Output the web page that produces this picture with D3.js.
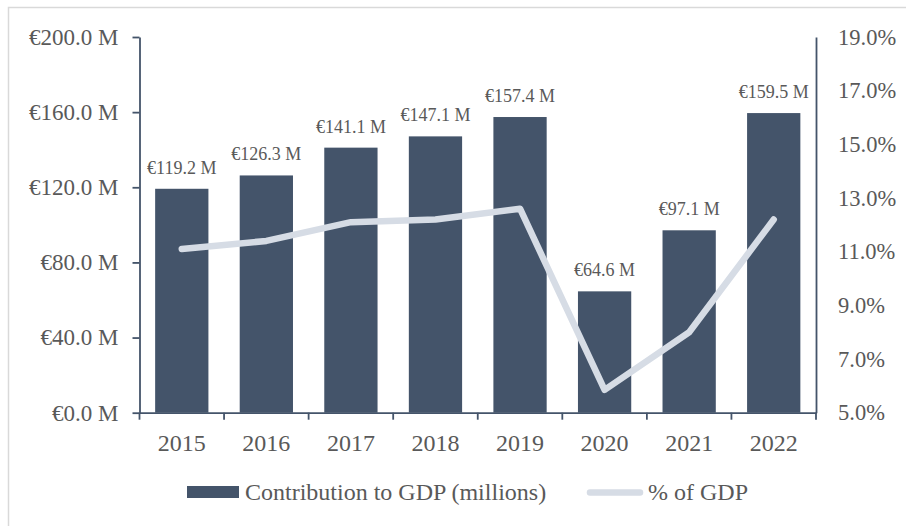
<!DOCTYPE html>
<html>
<head>
<meta charset="utf-8">
<script src="https://cdn.jsdelivr.net/npm/d3@7"></script>
<style>
  html, body { margin: 0; padding: 0; background: #fff; }
  svg { display: block; }
  text { font-family: "Liberation Serif", "Times New Roman", serif; fill: #595959; }
</style>
</head>
<body>
<svg id="chart" width="906" height="526"></svg>
<script>
// Contribution to GDP by year (millions of euro) and share of GDP (%)
const years = ["2015", "2016", "2017", "2018", "2019", "2020", "2021", "2022"];
const contribution = [119.2, 126.3, 141.1, 147.1, 157.4, 64.6, 97.1, 159.5];
const gdpShare = [11.1, 11.4, 12.1, 12.2, 12.6, 5.85, 8.0, 12.2];
const leftTicks = [0, 40, 80, 120, 160, 200];
const rightTicks = [5, 7, 9, 11, 13, 15, 17, 19];
const seriesNames = ["Contribution to GDP (millions)", "% of GDP"];

const barColor = "#44546a";
const lineColor = "#d6dce5";
const axisColor = "#44546a";

const svg = d3.select("#chart");
const plot = { left: 139.5, right: 816, top: 37, bottom: 412.7 };

// outer frame
svg.append("rect")
  .attr("x", 8.5).attr("y", 7.5)
  .attr("width", 1000).attr("height", 1000)
  .attr("fill", "none").attr("stroke", "#d9d9d9").attr("stroke-width", 1.5);

const xCat = d3.scaleBand().domain(years).range([plot.left, plot.right]).padding(0);
const xBar = d3.scaleBand().domain(years).range([plot.left, plot.right])
  .paddingInner(0.37).paddingOuter(0.185);
const y = d3.scaleLinear().domain([0, 200]).range([plot.bottom, plot.top]);
const y2 = d3.scaleLinear().domain([5, 19]).range([plot.bottom, plot.top]);

// bars
svg.append("g").selectAll("rect")
  .data(years)
  .join("rect")
  .attr("x", d => xBar(d))
  .attr("width", xBar.bandwidth())
  .attr("y", (d, i) => y(contribution[i]))
  .attr("height", (d, i) => y(0) - y(contribution[i]))
  .attr("fill", barColor);

// bar value labels
svg.append("g").selectAll("text")
  .data(years)
  .join("text")
  .attr("x", d => xBar(d) + xBar.bandwidth() / 2)
  .attr("y", (d, i) => y(contribution[i]) - 15)
  .attr("text-anchor", "middle")
  .style("font-size", "18px")
  .text((d, i) => `€${contribution[i].toFixed(1)} M`);

// share of GDP line
const line = d3.line()
  .x((d, i) => xBar(years[i]) + xBar.bandwidth() / 2)
  .y(d => y2(d));
svg.append("path")
  .datum(gdpShare)
  .attr("d", line)
  .attr("fill", "none")
  .attr("stroke", lineColor)
  .attr("stroke-width", 6.5)
  .attr("stroke-linejoin", "round")
  .attr("stroke-linecap", "round");

// left axis
const gLeft = svg.append("g").attr("transform", `translate(${plot.left},0)`)
  .call(d3.axisLeft(y).tickValues(leftTicks)
    .tickFormat(d => `€${d.toFixed(1)} M`)
    .tickSize(7).tickSizeOuter(0).tickPadding(14));
gLeft.selectAll("text").style("font-size", "23px").attr("fill", "#595959");

// right axis
const gRight = svg.append("g").attr("transform", `translate(${plot.right},0)`)
  .call(d3.axisRight(y2).tickValues(rightTicks)
    .tickFormat(d => `${d.toFixed(1)}%`)
    .tickSize(0).tickSizeOuter(0).tickPadding(22));
gRight.selectAll("text").style("font-size", "22.5px").attr("fill", "#595959");

// bottom axis: category labels centred, ticks on category boundaries
const gBottom = svg.append("g").attr("transform", `translate(0,${plot.bottom})`)
  .call(d3.axisBottom(xCat).tickSize(0).tickSizeOuter(0).tickPadding(21));
gBottom.selectAll("text").style("font-size", "24px").attr("fill", "#595959");
const boundaries = years.map(d => xCat(d)).concat([plot.right]);
gBottom.selectAll(".boundary")
  .data(boundaries)
  .join("line")
  .attr("class", "boundary")
  .attr("x1", d => d).attr("x2", d => d)
  .attr("y1", 0).attr("y2", 7);

[gLeft, gRight, gBottom].forEach(g => {
  g.selectAll("path.domain").attr("stroke", axisColor).attr("stroke-width", 1.8);
  g.selectAll("line").attr("stroke", axisColor).attr("stroke-width", 1.8);
});

// legend
const legend = svg.append("g");
legend.append("rect")
  .attr("x", 187).attr("y", 486).attr("width", 52).attr("height", 12)
  .attr("fill", barColor);
legend.append("text")
  .attr("x", 245).attr("y", 492).attr("dy", "0.35em")
  .style("font-size", "24px")
  .text(seriesNames[0]);
legend.append("line")
  .attr("x1", 590).attr("x2", 640).attr("y1", 492.5).attr("y2", 492.5)
  .attr("stroke", lineColor).attr("stroke-width", 6.5).attr("stroke-linecap", "round");
legend.append("text")
  .attr("x", 648).attr("y", 492).attr("dy", "0.35em")
  .style("font-size", "24px")
  .text(seriesNames[1]);
</script>
</body>
</html>
